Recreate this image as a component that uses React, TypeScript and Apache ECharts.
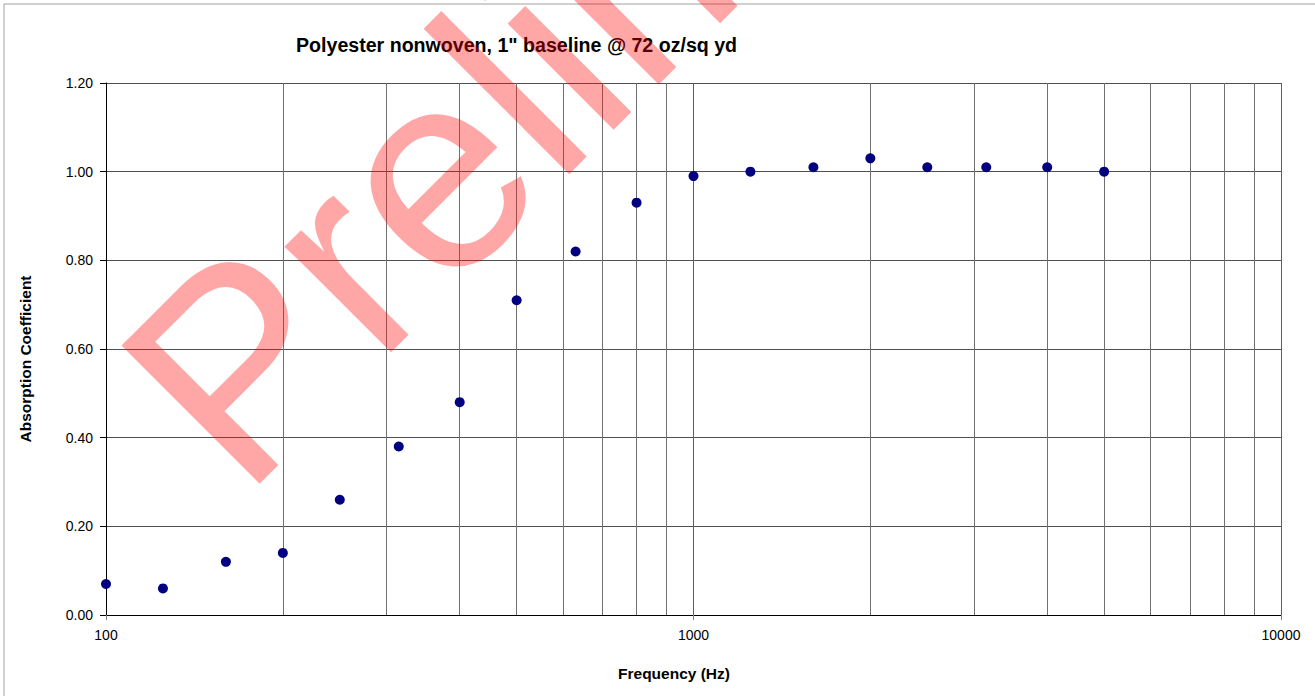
import React, { useEffect, useRef } from "react";
import * as echarts from "echarts";

const frequencies = [100, 125, 160, 200, 250, 315, 400, 500, 630, 800, 1000, 1250, 1600, 2000, 2500, 3150, 4000, 5000];
const absorption = [0.07, 0.06, 0.12, 0.14, 0.26, 0.38, 0.48, 0.71, 0.82, 0.93, 0.99, 1.0, 1.01, 1.03, 1.01, 1.01, 1.01, 1.0];
const minorGridFreqs = [200, 300, 400, 500, 600, 700, 800, 900, 2000, 3000, 4000, 5000, 6000, 7000, 8000, 9000];

const titleText = 'Polyester nonwoven, 1" baseline @ 72 oz/sq yd';
const xName = "Frequency (Hz)";
const yName = "Absorption Coefficient";
const watermark = "Preliminary";

const FONT = '"Liberation Sans", Arial, sans-serif';

export default function App() {
  const ref = useRef<HTMLDivElement>(null);

  useEffect(() => {
    document.body.style.margin = "0";
    if (!ref.current) return;
    const chart = echarts.init(ref.current, null, { renderer: "svg" });
    const points = frequencies.map((f, i) => [f, absorption[i]]);
    chart.setOption({
      animation: false,
      backgroundColor: "#ffffff",
      grid: { left: 106, right: 34, top: 83, bottom: 81, containLabel: false },
      xAxis: {
        type: "log",
        logBase: 10,
        min: 100,
        max: 10000,
        axisLine: { show: true, onZero: false, lineStyle: { color: "#000000", width: 1 } },
        axisTick: { show: true, length: 5, inside: false, lineStyle: { color: "#808080" } },
        axisLabel: {
          color: "#000000",
          fontFamily: FONT,
          fontSize: 14,
          margin: 13,
          formatter: (v: number) => String(Math.round(v)),
        },
        splitLine: { show: true, lineStyle: { color: "#606060", width: 1 } },
      },
      yAxis: {
        type: "value",
        min: 0,
        max: 1.2,
        interval: 0.2,
        axisLine: { show: true, onZero: false, lineStyle: { color: "#000000", width: 1 } },
        axisTick: { show: true, length: 6, inside: false, lineStyle: { color: "#000000" } },
        axisLabel: {
          color: "#000000",
          fontFamily: FONT,
          fontSize: 14,
          margin: 13,
          formatter: (v: number) => v.toFixed(2),
        },
        splitLine: { show: true, lineStyle: { color: "#505050", width: 1 } },
      },
      series: [
        {
          type: "scatter",
          data: points,
          symbol: "circle",
          symbolSize: 10,
          clip: false,
          itemStyle: { color: "#000080", opacity: 1 },
          z: 3,
          markLine: {
            silent: true,
            symbol: "none",
            label: { show: false },
            lineStyle: { color: "#707070", width: 1, type: "solid" },
            emphasis: { disabled: true },
            data: minorGridFreqs.map((f) => ({ xAxis: f })),
            z: 1,
          },
        },
      ],
      graphic: [
        {
          type: "rect",
          shape: { x: 4, y: 4, width: 1330, height: 720 },
          style: { fill: "none", stroke: "#a0a0a0", lineWidth: 1 },
          z: 0,
          silent: true,
        },
        {
          type: "text",
          x: 296,
          y: 44.5,
          style: {
            text: titleText,
            font: `bold 19.6px ${FONT}`,
            fill: "#000000",
            textAlign: "left",
            textVerticalAlign: "middle",
          },
          z: 5,
        },
        {
          type: "text",
          x: 25,
          y: 359,
          rotation: Math.PI / 2,
          style: {
            text: yName,
            font: `bold 15.5px ${FONT}`,
            fill: "#000000",
            textAlign: "center",
            textVerticalAlign: "middle",
          },
          z: 5,
        },
        {
          type: "text",
          x: 674,
          y: 673,
          style: {
            text: xName,
            font: `bold 15.5px ${FONT}`,
            fill: "#000000",
            textAlign: "center",
            textVerticalAlign: "middle",
          },
          z: 5,
        },
        {
          type: "text",
          x: 173.5,
          y: 430.5,
          rotation: Math.PI / 4,
          silent: true,
          style: {
            text: watermark,
            font: `normal 284px ${FONT}`,
            fill: "rgba(255,0,0,0.35)",
            textAlign: "left",
            textVerticalAlign: "middle",
          },
          z: 100,
        },
      ],
    });
    return () => chart.dispose();
  }, []);

  return <div ref={ref} style={{ width: 1315, height: 696 }} />;
}
